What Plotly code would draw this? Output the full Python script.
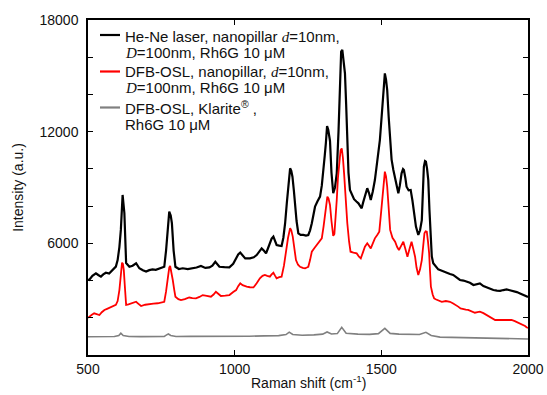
import plotly.graph_objects as go

# ---------------- data ----------------
black_x = [500, 504, 515, 527, 535, 544, 552, 561, 572, 584, 595, 601, 607, 612, 618, 624, 630, 641, 652, 664,
           675, 687, 698, 709, 720, 731, 743, 752, 760, 766, 772, 777, 782, 786, 792, 798, 810, 823, 840, 857,
           870, 885, 900, 914, 924, 934, 941, 948, 965, 982, 995, 1005, 1012, 1019, 1027, 1036, 1052, 1065, 1075, 1085,
           1092, 1100, 1107, 1114, 1120, 1126, 1132, 1138, 1143, 1152, 1160, 1166, 1172, 1178, 1183, 1189, 1193, 1197, 1202, 1206,
           1211, 1217, 1225, 1234, 1243, 1251, 1257, 1263, 1268, 1274, 1282, 1291, 1297, 1302, 1307, 1311, 1315, 1319, 1325, 1330,
           1336, 1342, 1348, 1354, 1359, 1363, 1367, 1371, 1376, 1380, 1384, 1388, 1393, 1400, 1407, 1415, 1422, 1428, 1433, 1438,
           1444, 1452, 1458, 1464, 1471, 1478, 1486, 1495, 1501, 1507, 1512, 1516, 1520, 1525, 1530, 1535, 1541, 1550, 1558, 1563,
           1569, 1574, 1577, 1582, 1586, 1593, 1600, 1606, 1611, 1618, 1626, 1632, 1638, 1642, 1645, 1649, 1652, 1656, 1660, 1664,
           1668, 1672, 1677, 1685, 1694, 1700, 1712, 1723, 1734, 1745, 1757, 1768, 1780, 1791, 1802, 1814, 1825, 1836, 1848, 1859,
           1870, 1882, 1894, 1905, 1916, 1927, 1938, 1950, 1962, 1973, 1984, 1995, 2000]
black_y = [4050, 4030, 4250, 4390, 4300, 4210, 4330, 4420, 4380, 4570, 4750, 5100, 5800, 6720, 8600, 7630, 4940, 4740, 4800, 4930,
           4660, 4550, 4480, 4560, 4600, 4580, 4660, 4700, 4740, 5600, 7080, 7700, 7500, 7080, 5600, 4740, 4620, 4660, 4620, 4660,
           4700, 4780, 4680, 4710, 4800, 5010, 4900, 4740, 4720, 4710, 4900, 5190, 5400, 5500, 5350, 5190, 5190, 5250, 5370, 5600,
           5730, 5600, 5460, 5750, 6000, 6250, 6360, 6150, 5910, 5880, 5860, 6300, 7080, 8200, 9230, 10030, 9900, 9580, 8800, 7970,
           7200, 6540, 6450, 6450, 6420, 6450, 6700, 7080, 7500, 7970, 8250, 8510, 9100, 9760, 10700, 11400, 12300, 12100, 11500, 9800,
           8690, 9000, 9760, 12000, 15130, 16300, 16390, 15800, 15130, 13500, 11550, 9800, 8870, 8600, 8370, 8250, 8150, 8000, 7880, 8200,
           8510, 8960, 8700, 8330, 8800, 9400, 10400, 11550, 12800, 14240, 15130, 14800, 14240, 12800, 11550, 10500, 9940, 9200, 8690, 9100,
           9760, 9990, 9940, 9500, 9040, 8850, 8870, 8300, 7610, 6900, 6450, 6700, 7250, 8600, 10120, 10420, 10390, 10000, 9400, 7800,
           6180, 5300, 4930, 4750, 4600, 4570, 4480, 4390, 4350, 4300, 4150, 4030, 4000, 3940, 3880, 3760, 3800, 3850, 3700, 3620,
           3550, 3490, 3460, 3450, 3490, 3520, 3480, 3450, 3380, 3310, 3240, 3170, 3120]

red_x = [500, 504, 512, 521, 530, 539, 547, 556, 565, 573, 584, 595, 601, 607, 612, 616, 619, 622, 626, 630,
         638, 647, 656, 664, 672, 681, 695, 709, 723, 738, 750, 760, 766, 772, 777, 780, 784, 789, 794, 798,
         808, 817, 830, 845, 856, 868, 880, 891, 905, 919, 928, 936, 945, 953, 968, 982, 995, 1005, 1012, 1019,
         1027, 1036, 1041, 1052, 1064, 1075, 1086, 1095, 1103, 1111, 1120, 1126, 1132, 1138, 1143, 1152, 1160, 1168, 1175, 1182,
         1189, 1193, 1198, 1203, 1209, 1216, 1223, 1232, 1240, 1246, 1251, 1257, 1263, 1272, 1280, 1289, 1297, 1303, 1308, 1312,
         1316, 1320, 1325, 1330, 1336, 1340, 1344, 1348, 1352, 1357, 1361, 1365, 1369, 1373, 1378, 1384, 1390, 1395, 1405, 1416,
         1423, 1430, 1437, 1444, 1452, 1458, 1464, 1471, 1478, 1486, 1493, 1500, 1505, 1509, 1512, 1516, 1520, 1525, 1530, 1538,
         1547, 1554, 1560, 1567, 1575, 1582, 1589, 1596, 1603, 1609, 1615, 1620, 1626, 1632, 1638, 1643, 1647, 1651, 1655, 1659,
         1663, 1666, 1669, 1675, 1680, 1687, 1694, 1706, 1720, 1734, 1745, 1754, 1762, 1770, 1779, 1788, 1796, 1808, 1819, 1828,
         1836, 1848, 1859, 1873, 1888, 1902, 1916, 1930, 1944, 1955, 1967, 1980, 1990, 1995, 2000]
red_y = [2000, 2060, 2150, 2240, 2200, 2150, 2300, 2420, 2480, 2540, 2600, 2690, 2900, 3490, 4300, 4960, 4900, 4570, 3600, 2690,
         2720, 2780, 2820, 2860, 2750, 2630, 2700, 2740, 2760, 2780, 2820, 2860, 3400, 4210, 4700, 4780, 4500, 4030, 3500, 3130,
         3000, 2950, 3000, 3090, 3060, 3040, 3120, 3220, 3180, 3130, 3250, 3400, 3280, 3170, 3190, 3220, 3380, 3490, 3700, 3850,
         3750, 3670, 3670, 3640, 3630, 3850, 4120, 4250, 4300, 4250, 4210, 4330, 4420, 4250, 4120, 4180, 4210, 4800, 5640, 6300,
         6810, 6700, 6360, 5700, 5100, 4850, 4740, 4680, 4660, 4700, 4740, 5100, 5550, 5750, 5910, 6100, 6270, 6900, 7610, 8200,
         8510, 8400, 8060, 7200, 6400, 6500, 7200, 8330, 9500, 10480, 11000, 11100, 10600, 9760, 8400, 7080, 6100, 5550, 5500, 5460,
         5300, 5190, 5500, 5820, 6000, 5850, 5730, 6000, 6270, 6450, 6630, 7800, 8870, 9600, 9850, 9600, 9040, 7900, 6720, 6300,
         6090, 5800, 5640, 5850, 6090, 5700, 5280, 5700, 6090, 5700, 5280, 4700, 4300, 4600, 5100, 5900, 6540, 6650, 6630, 6100,
         5460, 4500, 3670, 3250, 3040, 2980, 2950, 2860, 2900, 2860, 2770, 2700, 2600, 2500, 2450, 2440, 2420, 2330, 2270, 2300,
         2330, 2250, 2150, 2020, 1880, 1880, 1880, 1870, 1880, 1820, 1740, 1640, 1560, 1490, 1450]

gray_x = [500, 530, 560, 590, 605, 612, 620, 640, 680, 720, 760, 768, 774, 782, 800, 850, 900, 950, 1000, 1050,
          1100, 1150, 1175, 1186, 1198, 1230, 1270, 1300, 1315, 1330, 1350, 1365, 1380, 1420, 1460, 1490, 1512, 1530, 1560, 1600,
          1630, 1652, 1670, 1700, 1750, 1800, 1850, 1900, 1950, 2000]
gray_y = [980, 990, 975, 990, 1050, 1170, 1050, 990, 985, 995, 1000, 1080, 1130, 1050, 990, 1000, 995, 1010, 1020, 1010,
          1030, 1040, 1100, 1230, 1100, 1060, 1080, 1120, 1240, 1130, 1150, 1490, 1170, 1120, 1110, 1150, 1430, 1160, 1120, 1110,
          1100, 1220, 1050, 960, 940, 920, 900, 890, 880, 860]

SERIF_D = "<span style=\"font-family:Liberation Serif\"><i>d</i></span>"
SERIF_BIG_D = "<span style=\"font-family:Liberation Serif\"><i>D</i></span>"
series_names = [
    "He-Ne laser, nanopillar d=10nm, D=100nm, Rh6G 10 μM",
    "DFB-OSL, nanopillar, d=10nm, D=100nm, Rh6G 10 μM",
    "DFB-OSL, Klarite®, Rh6G 10 μM",
]
legend_lines = [
    ["He-Ne laser, nanopillar " + SERIF_D + "=10nm,", SERIF_BIG_D + "=100nm, Rh6G 10 μM"],
    ["DFB-OSL, nanopillar, " + SERIF_D + "=10nm,", SERIF_BIG_D + "=100nm, Rh6G 10 μM"],
    ["DFB-OSL, Klarite<sup>®</sup> ,", "Rh6G 10 μM"],
]
series_colors = ["#000000", "#ff0000", "#808080"]
series_widths = [2.2, 1.8, 1.6]
x_ticks = [500, 1000, 1500, 2000]
y_ticks = [6000, 12000, 18000]
y_ticktext = ["6000", "12000", "18000"]

# ---------------- figure ----------------
W, H = 547, 395
ML, MR, MT, MB = 88, 19, 20, 40
PW, PH = W - ML - MR, H - MT - MB


def px_to_paper(px, py):
    return (px - ML) / PW, (H - MB - py) / PH


fig = go.Figure()
for xs, ys, nm, col, wd in zip([black_x, red_x, gray_x], [black_y, red_y, gray_y],
                               series_names, series_colors, series_widths):
    fig.add_trace(go.Scatter(x=xs, y=ys, mode="lines", name=nm, showlegend=False,
                             line=dict(color=col, width=wd)))

# hand-placed legend (line samples + two text lines per entry)
entry_line_y = [35, 71.5, 107.5]
entry_text_y = [(36, 52), (71.5, 87.5), (107, 124)]
shapes, annotations = [], []
for i in range(3):
    x0, y0 = px_to_paper(100, entry_line_y[i])
    x1, _ = px_to_paper(120, entry_line_y[i])
    shapes.append(dict(type="line", xref="paper", yref="paper", x0=x0, x1=x1, y0=y0, y1=y0,
                       line=dict(color=series_colors[i], width=2.2)))
    for j, txt in enumerate(legend_lines[i]):
        tx, ty = px_to_paper(123, entry_text_y[i][j])
        annotations.append(dict(xref="paper", yref="paper", x=tx, y=ty, xanchor="left",
                                yanchor="middle", text=txt, showarrow=False,
                                font=dict(family="Liberation Sans, Arial", size=15, color="#111111")))

# x-axis title
tx, ty = px_to_paper(308, 382)
annotations.append(dict(xref="paper", yref="paper", x=tx, y=ty, xanchor="center", yanchor="middle",
                        text="Raman shift (cm<sup>-1</sup>)", showarrow=False,
                        font=dict(family="Liberation Sans, Arial", size=14, color="#111111")))

axis_common = dict(showline=True, linecolor="#000000", linewidth=1.5, mirror="ticks",
                   ticks="inside", ticklen=5, tickwidth=1, tickcolor="#000000",
                   showgrid=False, zeroline=False,
                   tickfont=dict(family="Liberation Sans, Arial", size=14, color="#111111"))

fig.update_layout(
    width=W, height=H,
    margin=dict(l=ML, r=MR, t=MT, b=MB, autoexpand=False),
    paper_bgcolor="white", plot_bgcolor="white",
    font=dict(family="Liberation Sans, Arial", size=14, color="#111111"),
    xaxis=dict(range=[500, 2000], tickvals=x_ticks, **axis_common),
    yaxis=dict(range=[0, 18000], tickvals=y_ticks, ticktext=y_ticktext, ticklabelstandoff=5,
               minor=dict(dtick=2000, ticks="inside", ticklen=5, tickcolor="#000000"),
               title=dict(text="Intensity (a.u.)", standoff=13, font=dict(size=14)),
               **axis_common),
    shapes=shapes,
    annotations=annotations,
    showlegend=False,
)

fig.write_html("out.html", config={"displayModeBar": False},
               post_script="document.body.style.margin='0px';")
